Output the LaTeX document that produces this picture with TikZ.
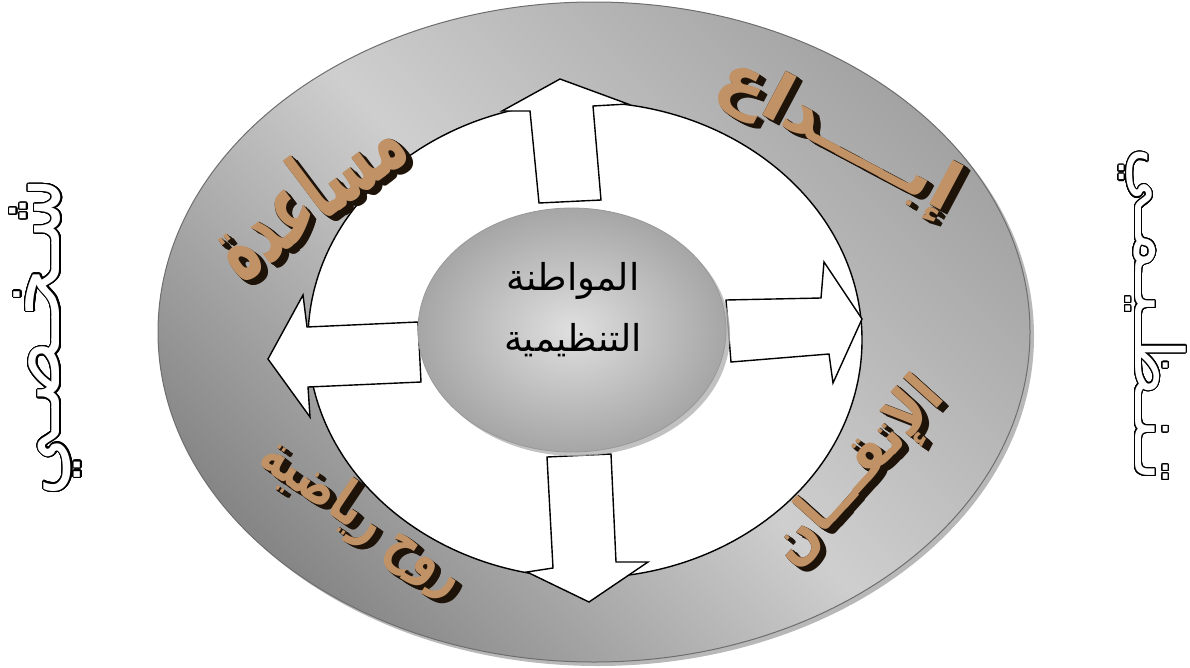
\documentclass[tikz,border=0pt]{standalone}
\usepackage{fontspec}
\usepackage{graphicx}
\usepackage{contour}
\usetikzlibrary{shapes.geometric}
\TeXXeTstate=1
\newfontfamily\arabicfont[Script=Arabic]{DejaVu Sans}
\contourlength{0.9pt}
\contournumber{32}
\definecolor{waFace}{RGB}{192,146,102}
\definecolor{waDark}{RGB}{30,19,9}
\definecolor{ringLine}{RGB}{110,110,110}
\tikzset{
  blockarrow/.style={fill=white, draw=black, line width=1.4pt, line join=miter},
  wafont/.style={inner sep=0pt},
  outlined/.style={inner sep=0pt, text=white},
}
% name, x, y, angle, length, height, text
\newcommand\wordart[7]{%
  \foreach \k in {9,8,...,1}{%
    \node[wafont, rotate=#4, text=waDark] (#1-\k) at ({#2+0.75*\k},{#3+0.55*\k})
      {\resizebox*{#5}{#6}{\arabicfont\bfseries #7}};}
  \node[wafont, rotate=#4, text=waFace] (#1) at (#2,#3)
      {\resizebox*{#5}{#6}{\arabicfont\bfseries #7}};
}
\begin{document}
\begin{tikzpicture}[x=1pt, y=-1pt]
\useasboundingbox (0,0) rectangle (1190,667);
% outer ring
\fill[gray!70, opacity=0.8] (598,336) ellipse [x radius=436pt, y radius=330pt];
\shadedraw[draw=ringLine, line width=1pt, top color=gray!72, bottom color=gray!95, middle color=gray!38, shading angle=-45]
  (594,332) ellipse [x radius=436pt, y radius=330pt];
% inner white area
\filldraw[fill=white, draw=black, line width=1.4pt] (585,340) ellipse [x radius=277pt, y radius=238pt];
% block arrows
\filldraw[blockarrow] (539,203) -- (530,111) -- (502,111) -- (560,79) -- (628,104) -- (593,106) -- (601,200) -- cycle;
\filldraw[blockarrow] (418,322) -- (307,327) -- (303,295) -- (268,359) -- (310,417) -- (308,387) -- (421,382) -- cycle;
\filldraw[blockarrow] (726,300) -- (821,298) -- (824,262) -- (862,319) -- (833,383) -- (829,354) -- (731,362) -- cycle;
\filldraw[blockarrow] (547,457) -- (611,454) -- (616,562) -- (648,562) -- (589,602) -- (527,572) -- (553,568) -- cycle;
% centre ellipse
\fill[gray!60, opacity=0.8] (576,334) ellipse [x radius=154pt, y radius=122pt];
\node[ellipse, draw=gray!80, line width=0.8pt, inner color=gray!25, outer color=gray!70,
      minimum width=308pt, minimum height=244pt] (core) at (572,330) {};
\node[align=center, font=\arabicfont\fontsize{37}{61}\selectfont] (coretext) at (573,310)
  {\beginR المواطنة\endR\\\beginR التنظيمية\endR};
% word art labels
\wordart{musaada}{306}{192}{37}{215pt}{76pt}{\beginR مساعدة\endR}
\wordart{ruh}{362}{518}{-34}{235pt}{58pt}{\beginR روح رياضية\endR}
\wordart{ibdaa}{838}{136}{-28}{262pt}{66pt}{\beginR إبــــداع\endR}
\wordart{itqan}{858}{473}{48}{228pt}{60pt}{\beginR الإتقـــان\endR}
% side labels
\node[outlined, rotate=90] (personal) at (46,337)
  {\resizebox*{318pt}{72pt}{\contour{black}{\arabicfont\fontsize{60}{60}\selectfont\beginR شـخـصـي\endR}}};
\node[outlined, rotate=-90] (organizational) at (1152,315)
  {\resizebox*{334pt}{68pt}{\contour{black}{\arabicfont\fontsize{60}{60}\selectfont\beginR تـنـظـيـمـي\endR}}};
\end{tikzpicture}
\end{document}
